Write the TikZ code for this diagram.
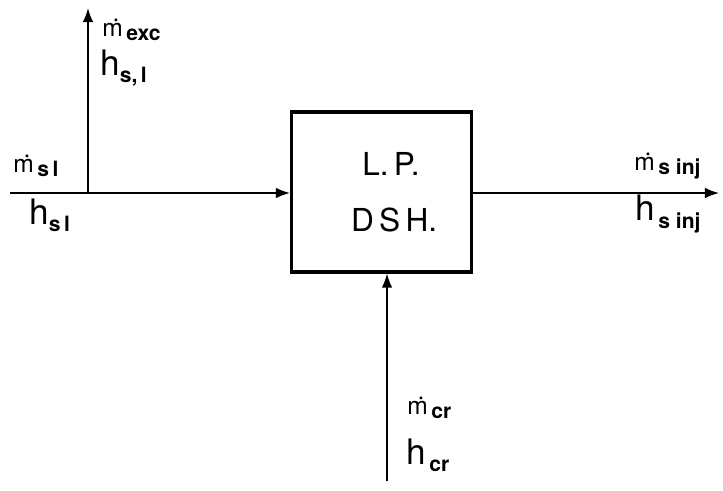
\documentclass[tikz,border=0pt]{standalone}
\usepackage{fontspec}
\setmainfont{TeX Gyre Heros}
\usetikzlibrary{arrows.meta, positioning}
\newcommand{\mdot}[1]{{\fontsize{14}{16}\selectfont\.m\raisebox{-0.35ex}{\fontsize{12}{14}\selectfont\bfseries #1}}}
\newcommand{\hlab}[1]{{\fontsize{20}{22}\selectfont h\raisebox{-0.4ex}{\fontsize{12}{14}\selectfont\bfseries #1}}}
\tikzset{
    % block with heavy border
    block/.style={
        rectangle,
        draw=black,
        line width=1.8pt,
        minimum width=3.6cm,
        minimum height=3.2cm,
        align=center,
        font=\fontsize{18}{30}\selectfont
    },
    flow/.style={
        -{Latex[length=8pt,width=6pt]},
        line width=0.9pt
    },
    label/.style={
        anchor=west,
        inner sep=0pt
    }
}
\begin{document}
\begin{tikzpicture}[x=0.02cm, y=-0.02cm]
    \useasboundingbox (0,0) rectangle (723,490);

    % Main box
    \node[block] (dsh) at (381.5,192) {\hspace{0.6em}L.\,P.\\[2pt]\hspace{0.8em}D\,S\,H.};

    % Ends of the flow lines
    \coordinate (slin) at (10,193);
    \coordinate (branch) at (88,193);
    \coordinate (excout) at (88,8);
    \coordinate (injout) at (719,193);
    \coordinate (crin) at (387,481);

    % Flows
    \draw[flow] (slin) -- (dsh.west |- slin);
    \draw[flow] (branch) -- (excout);
    \draw[flow] (dsh.east |- injout) -- (injout);
    \draw[flow] (crin) -- (crin |- dsh.south);

    % Labels
    \node[label] (mexc) at (102,30) {\mdot{\,exc}};
    \node[label] (hexc) at (100,68) {\hlab{s,\,l}};
    \node[label] (msl) at (13,166) {\mdot{\,s\,l}};
    \node[label] (hsl) at (29,215) {\hlab{s\,l}};
    \node[label] (minj) at (634,166) {\mdot{\,s inj}};
    \node[label] (hinj) at (635,214) {\hlab{\,s inj}};
    \node[label] (mcr) at (407,408) {\mdot{\,cr}};
    \node[label] (hcr) at (406,455) {\hlab{\,cr}};
\end{tikzpicture}
\end{document}
